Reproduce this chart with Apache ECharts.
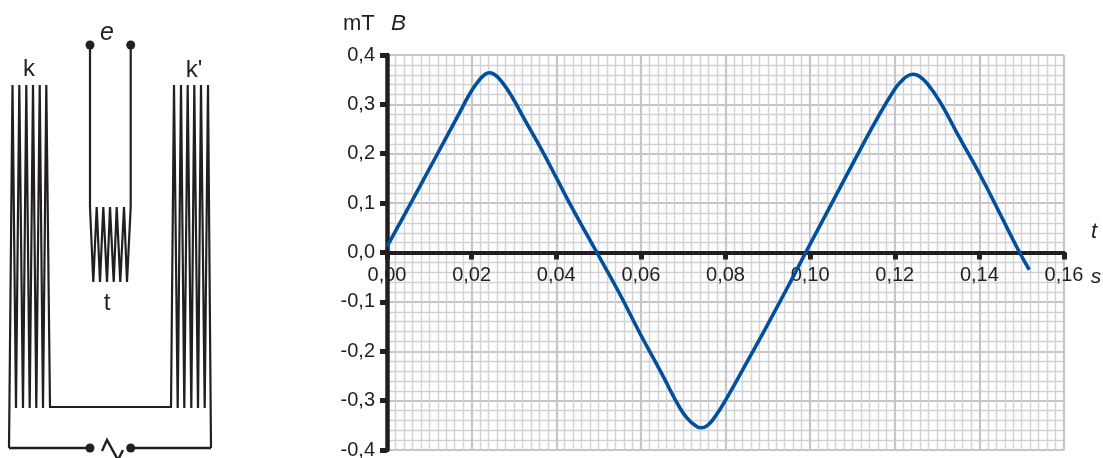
<!DOCTYPE html>
<html><head><meta charset="utf-8">
<style>html,body{margin:0;padding:0;background:#fff}#c{width:1103px;height:458px}</style>
<script src="https://cdn.jsdelivr.net/npm/echarts@6/dist/echarts.min.js"></script>
</head><body><div id="c"></div>
<script>
// Measured curve B(t)
const tValues = [0,.00583,.01174,.01647,.0196,.0216,.0229,.0242,.0255,.0272,.0295,.0326,.03656,.0401,.04365,.0496,.0547,.0598,.0649,.0693,.0712,.0728,.0742,.0756,.0775,.0803,.085,.0897,.0952,.0992,.1047,.1102,.1153,.1201,.1218,.1231,.1244,.1258,.1277,.1307,.1354,.1402,.1449,.1492,.1518];
const bValues = [.012,.103,.197,.272,.322,.347,.359,.364,.36,.345,.316,.268,.208,.15,.092,0,-.079,-.164,-.245,-.316,-.338,-.35,-.355,-.351,-.333,-.295,-.223,-.15,-.062,.004,.093,.182,.263,.332,.349,.358,.361,.357,.342,.305,.231,.157,.078,.005,-.035];

// Schematic (left panel) polylines, in the panel's own scale
const coilLeftX = [9,12.5,16,19.3,23,26.3,29.7,33,36.3,39.7,43,46.3,50,171,174,177.7,181,184.3,187.7,191.3,194.3,198,201,204.7,208,211];
const coilLeftY = [448,85,408,85,408,85,408,85,408,85,408,85,407,407,85,408,85,408,85,408,85,408,85,408,85,448];
const feedLeftX = [90,9]; const feedLeftY = [448,448];
const feedRightX = [130.7,211]; const feedRightY = [448,448];
const sensorX = [90,90,93.3,96.7,100,103.3,107,110,113.7,116.7,120.3,124,127,130.7,130.7];
const sensorY = [45,207,282,207,282,207,282,207,282,207,282,207,282,207,45];
const acX = [102,107,118,123]; const acY = [451,440,460,450];
const dotX = [90,130.7,90,130.7]; const dotY = [45,45,448,448];

const zip = (a,b)=>a.map((v,i)=>[v,b[i]]);
const INK='#231f20';
const wire=(x,y,w)=>({type:'line',xAxisIndex:1,yAxisIndex:1,data:zip(x,y),symbol:'none',clip:false,silent:true,lineStyle:{color:INK,width:w||2.2,join:'miter'}});
const font='"Liberation Sans",Arial,sans-serif';
const txt=(x,y,t,size,italic,align)=>({type:'text',x,y,silent:true,style:{text:t,fontFamily:font,fontSize:size,fontStyle:italic?'italic':'normal',fill:INK,align:align||'center',verticalAlign:'middle'}});

const chart=echarts.init(document.getElementById('c'),null,{renderer:'canvas'});
chart.setOption({
  animation:false,
  grid:[{left:387,top:55,width:677,height:395,outerBoundsMode:'none'},{left:0,top:0,width:230,height:458,outerBoundsMode:'none'}],
  xAxis:[{type:'value',min:0,max:0.16,interval:0.02,
    axisLine:{show:true,onZero:true,lineStyle:{color:INK,width:4}},
    axisTick:{show:true,length:7,lineStyle:{color:INK,width:5}},
    minorTick:{show:false,splitNumber:10},
    axisLabel:{margin:-185,color:INK,fontFamily:font,fontSize:20,formatter:v=>v.toFixed(2).replace('.',',')},
    splitLine:{show:true,lineStyle:{color:'#c6c6ca',width:2.2}},
    minorSplitLine:{show:true,lineStyle:{color:'#d2d2d6',width:1.4}}},
   {gridIndex:1,type:'value',min:0,max:230,show:false}],
  yAxis:[{type:'value',min:-0.4,max:0.4,interval:0.1,
    axisLine:{show:true,onZero:false,lineStyle:{color:INK,width:4.5}},
    axisTick:{show:true,length:7,lineStyle:{color:INK,width:5}},
    minorTick:{show:false,splitNumber:5},
    axisLabel:{margin:12,color:INK,fontFamily:font,fontSize:20,padding:[2,0,0,0],formatter:v=>v.toFixed(1).replace('.',',')},
    splitLine:{show:true,lineStyle:{color:'#c6c6ca',width:2.2}},
    minorSplitLine:{show:true,lineStyle:{color:'#d2d2d6',width:1.4}}},
   {gridIndex:1,type:'value',min:0,max:458,inverse:true,show:false}],
  series:[
    {type:'line',data:zip(tValues,bValues),smooth:0.5,symbol:'none',z:5,clip:false,lineStyle:{color:'#00509d',width:3.6}},
    wire(coilLeftX,coilLeftY),wire(feedLeftX,feedLeftY,2.4),wire(feedRightX,feedRightY,2.4),
    wire(sensorX,sensorY),wire(acX,acY,2.4),
    {type:'scatter',xAxisIndex:1,yAxisIndex:1,data:zip(dotX,dotY),symbolSize:9,clip:false,itemStyle:{color:INK,opacity:1},silent:true}
  ],
  graphic:[
    txt(107,33,'e',25,true),txt(29,69,'k',24),txt(194,70,"k'",24),txt(107,303,'t',24),
    txt(343,24,'mT',22,false,'left'),txt(391,24,'B',22.5,true,'left'),
    txt(1094,232,'t',22,true),txt(1096,277,'s',21,true)
  ]
});
</script></body></html>
